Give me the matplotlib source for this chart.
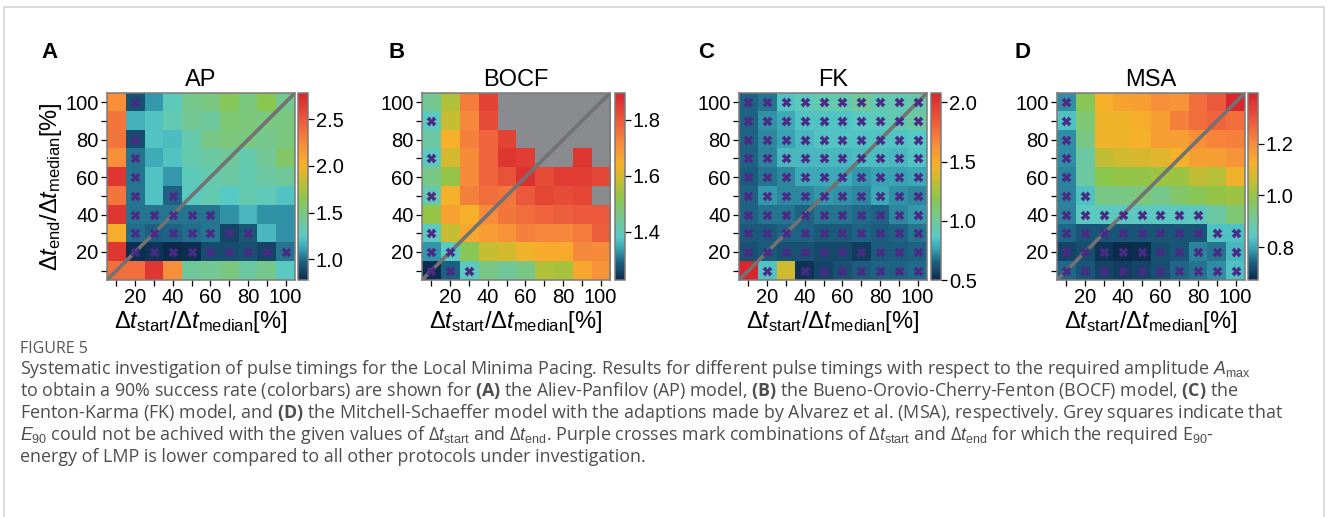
import numpy as np
import matplotlib.pyplot as plt
from matplotlib.colors import LinearSegmentedColormap
from matplotlib.patches import Rectangle

plt.rcParams['font.family'] = ['Liberation Sans', 'DejaVu Sans']
plt.rcParams['mathtext.fontset'] = 'custom'
plt.rcParams['mathtext.rm'] = 'Liberation Sans'
plt.rcParams['mathtext.it'] = 'Liberation Sans:italic'
plt.rcParams['mathtext.bf'] = 'Open Sans:bold'
plt.rcParams['mathtext.sf'] = 'Open Sans'

dt_start = [10, 20, 30, 40, 50, 60, 70, 80, 90, 100]
dt_end = [100, 90, 80, 70, 60, 50, 40, 30, 20, 10]   # rows, top to bottom

# required amplitude A_max, rows follow dt_end
ap_amp = [
    [2.22, 0.92, 1.10, 1.28, 1.46, 1.50, 1.62, 1.50, 1.66, 1.45],
    [2.34, 1.16, 1.22, 1.32, 1.44, 1.40, 1.54, 1.52, 1.50, 1.50],
    [2.34, 0.90, 1.22, 1.20, 1.34, 1.48, 1.52, 1.50, 1.46, 1.50],
    [2.22, 1.02, 1.14, 1.22, 1.34, 1.38, 1.42, 1.34, 1.44, 1.58],
    [2.68, 1.02, 1.22, 1.10, 1.28, 1.34, 1.38, 1.34, 1.38, 1.42],
    [2.34, 1.02, 1.22, 0.98, 1.26, 1.32, 1.24, 1.34, 1.30, 1.22],
    [2.68, 1.02, 1.02, 1.02, 1.02, 1.02, 1.08, 1.18, 1.08, 1.08],
    [2.04, 1.00, 0.96, 0.98, 1.00, 1.02, 0.88, 0.94, 1.18, 1.08],
    [2.68, 0.80, 0.82, 0.78, 0.80, 0.90, 0.90, 0.92, 0.88, 1.02],
    [2.38, 2.38, 2.68, 2.22, 1.42, 1.44, 1.50, 1.38, 1.46, 1.26],
]
nan = np.nan
bocf_amp = [
    [1.45, 1.56, 1.74, 1.84, nan, nan, nan, nan, nan, nan],
    [1.39, 1.58, 1.72, 1.82, nan, nan, nan, nan, nan, nan],
    [1.43, 1.64, 1.73, 1.78, 1.84, nan, nan, nan, nan, nan],
    [1.39, 1.60, 1.71, 1.78, 1.86, 1.85, nan, nan, 1.86, nan],
    [1.46, 1.53, 1.71, 1.78, 1.81, 1.87, 1.82, 1.85, 1.85, 1.83],
    [1.41, 1.64, 1.73, 1.76, 1.75, 1.80, 1.83, 1.82, 1.83, nan],
    [1.53, 1.67, 1.64, 1.71, 1.75, 1.76, 1.78, 1.79, 1.80, 1.80],
    [1.39, 1.58, 1.66, 1.68, 1.70, 1.73, 1.72, 1.72, 1.74, 1.79],
    [1.33, 1.39, 1.51, 1.58, 1.60, 1.63, 1.65, 1.65, 1.72, 1.71],
    [1.23, 1.29, 1.39, 1.46, 1.44, 1.46, 1.56, 1.55, 1.66, 1.70],
]
fk_amp = [
    [0.66, 0.69, 0.85, 0.90, 0.94, 0.94, 1.01, 0.93, 0.93, 0.94],
    [0.66, 0.74, 0.78, 0.85, 0.85, 0.85, 0.88, 0.90, 0.93, 0.97],
    [0.66, 0.72, 0.77, 0.82, 0.85, 0.85, 0.85, 0.85, 0.85, 0.86],
    [0.66, 0.71, 0.82, 0.82, 0.82, 0.82, 0.83, 0.83, 0.82, 0.85],
    [0.64, 0.69, 0.72, 0.78, 0.78, 0.78, 0.75, 0.77, 0.77, 0.78],
    [0.66, 0.75, 0.72, 0.72, 0.75, 0.74, 0.72, 0.78, 0.74, 0.72],
    [0.66, 0.69, 0.69, 0.66, 0.69, 0.69, 0.67, 0.66, 0.72, 0.75],
    [0.63, 0.63, 0.66, 0.66, 0.63, 0.63, 0.66, 0.64, 0.66, 0.69],
    [0.61, 0.63, 0.61, 0.61, 0.59, 0.59, 0.55, 0.63, 0.64, 0.66],
    [2.08, 0.85, 1.37, 0.53, 0.58, 0.61, 0.64, 0.66, 0.66, 0.67],
]
msa_amp = [
    [0.78, 0.98, 1.12, 1.15, 1.16, 1.19, 1.18, 1.25, 1.29, 1.40],
    [0.83, 0.95, 1.11, 1.11, 1.13, 1.16, 1.22, 1.25, 1.27, 1.25],
    [0.78, 0.93, 1.11, 1.11, 1.12, 1.16, 1.16, 1.19, 1.21, 1.22],
    [0.78, 0.89, 1.05, 1.07, 1.08, 1.09, 1.12, 1.16, 1.16, 1.18],
    [0.77, 0.89, 0.99, 1.00, 1.00, 1.01, 1.01, 1.05, 1.04, 1.11],
    [0.77, 0.83, 0.93, 0.93, 0.94, 0.92, 0.96, 0.98, 1.00, 1.01],
    [0.77, 0.85, 0.85, 0.85, 0.85, 0.85, 0.85, 0.85, 0.89, 0.95],
    [0.75, 0.73, 0.73, 0.73, 0.73, 0.73, 0.73, 0.73, 0.83, 0.83],
    [0.71, 0.72, 0.69, 0.67, 0.68, 0.72, 0.73, 0.77, 0.76, 0.82],
    [0.75, 0.73, 0.71, 0.70, 0.71, 0.72, 0.75, 0.76, 0.78, 0.83],
]

# 1 = LMP needs less E90-energy than all other protocols (purple cross)
ap_best = ["0100000000", "0000000000", "0100000000", "0100000000", "0100000000",
           "0101000000", "0111110000", "0111111100", "0111111111", "0000000000"]
bocf_best = ["0000000000", "1000000000", "0000000000", "1000000000", "0000000000",
             "1000000000", "0000000000", "1000000000", "1100000000", "1110000000"]
fk_best = ["1111111111", "1111111111", "1111111111", "1111111111", "1111111111",
           "1111111111", "1111111111", "1111111111", "1111111111", "0101111111"]
msa_best = ["1000000000", "1000000000", "1000000000", "1000000000", "1000000000",
            "1100000000", "1111111100", "1111111111", "1111111111", "1111111111"]

models = ["AP", "BOCF", "FK", "MSA"]
letters = ["A", "B", "C", "D"]
amps = [ap_amp, bocf_amp, fk_amp, msa_amp]
best = [ap_best, bocf_best, fk_best, msa_best]
ranges = [(0.78, 2.78), (1.227, 1.895), (0.5, 2.08), (0.674, 1.395)]
cbar_ticks = [[1.0, 1.5, 2.0, 2.5], [1.4, 1.6, 1.8], [0.5, 1.0, 1.5, 2.0], [0.8, 1.0, 1.2]]

cmap = LinearSegmentedColormap.from_list("lmp", [
    (0.00, "#0b2a4c"), (0.10, "#1f6586"), (0.17, "#3aa5b5"), (0.23, "#58cac6"),
    (0.33, "#74c894"), (0.44, "#8cc64c"), (0.53, "#c6bd32"), (0.62, "#f7b02a"),
    (0.72, "#f78f3a"), (0.83, "#ef633e"), (1.00, "#d8252e")])
cmap.set_bad("#8a8b8f")

W, H = 1328, 517
fig = plt.figure(figsize=(W / 100, H / 100), dpi=100)
fig.patches.append(Rectangle((4 / W, -0.1), 1320 / W, 1.1 - 7 / H, transform=fig.transFigure,
                             fill=False, edgecolor="#d4d4d4", lw=1.2))

heat_left = [107, 422, 739, 1057]
cbar_left = [298, 615, 931, 1248]
letter_x = [41, 388, 698, 1015]
top, bottom = 93, 280

for k in range(4):
    ax = fig.add_axes([heat_left[k] / W, (H - bottom) / H, 188 / W, (bottom - top) / H])
    data = np.array(amps[k], dtype=float)
    x0, x1 = dt_start[0] - 5, dt_start[-1] + 5
    im = ax.imshow(data, cmap=cmap, vmin=ranges[k][0], vmax=ranges[k][1],
                   extent=[x0, x1, x0, x1], aspect="auto", interpolation="nearest")
    ax.plot([x0, x1], [x0, x1], color="#727272", lw=2.6, solid_capstyle="butt")
    for i, row in enumerate(best[k]):
        for j, c in enumerate(row):
            if c == "1":
                ax.plot(dt_start[j], dt_end[i], marker="X", ms=6.5, color="#4a2a86",
                        mec="none", ls="none")
    ax.set_xlim(x0, x1)
    ax.set_ylim(x0, x1)
    labs = [str(v) if v % 20 == 0 else "" for v in dt_start]
    ax.set_xticks(dt_start, labs)
    ax.set_yticks(dt_start, labs)
    ax.tick_params(labelsize=14.5, length=4, width=0.9, pad=2)
    for s in ax.spines.values():
        s.set_color("#7a7a7a")
        s.set_linewidth(1.1)
    ax.set_title(models[k], fontsize=17, pad=5)
    ax.set_xlabel(r"$\Delta t_{\rm start}/\Delta t_{\rm median}[\%]$", fontsize=17, labelpad=1)
    if k == 0:
        ax.set_ylabel(r"$\Delta t_{\rm end}/\Delta t_{\rm median}[\%]$", fontsize=17, labelpad=1)

    cax = fig.add_axes([cbar_left[k] / W, (H - bottom) / H, 9.5 / W, (bottom - top) / H])
    cb = fig.colorbar(im, cax=cax, ticks=cbar_ticks[k])
    cb.ax.tick_params(labelsize=14.5, length=4, width=0.9, pad=2)
    cb.outline.set_edgecolor("#7a7a7a")
    cb.outline.set_linewidth(1.1)

    fig.text(letter_x[k] / W, 1 - 58 / H, letters[k], fontsize=16, fontweight="bold",
             va="baseline", ha="left")

cap_color = "#4d4d4d"
cap_kw = dict(fontsize=12.9, color=cap_color, family="Open Sans", va="baseline", ha="left")
fig.text(20 / W, 1 - 353 / H, "FIGURE 5", fontsize=11.5, color="#555555",
         family="Open Sans", va="baseline", ha="left")
caption = [
    r"Systematic investigation of pulse timings for the Local Minima Pacing. Results for different pulse timings with respect to the required amplitude $A_{\rm max}$",
    r"to obtain a 90% success rate (colorbars) are shown for $\mathbf{(A)}$ the Aliev-Panfilov (AP) model, $\mathbf{(B)}$ the Bueno-Orovio-Cherry-Fenton (BOCF) model, $\mathbf{(C)}$ the",
    r"Fenton-Karma (FK) model, and $\mathbf{(D)}$ the Mitchell-Schaeffer model with the adaptions made by Alvarez et al. (MSA), respectively. Grey squares indicate that",
    r"$E_{90}$ could not be achived with the given values of $\mathsf{\Delta}t_{\rm start}$ and $\mathsf{\Delta}t_{\rm end}$. Purple crosses mark combinations of $\mathsf{\Delta}t_{\rm start}$ and $\mathsf{\Delta}t_{\rm end}$ for which the required E$_{90}$-",
    r"energy of LMP is lower compared to all other protocols under investigation.",
]
for n, line in enumerate(caption):
    fig.text(20 / W, 1 - (374 + 22 * n) / H, line, **cap_kw)

fig.savefig("out.png", dpi=100)
